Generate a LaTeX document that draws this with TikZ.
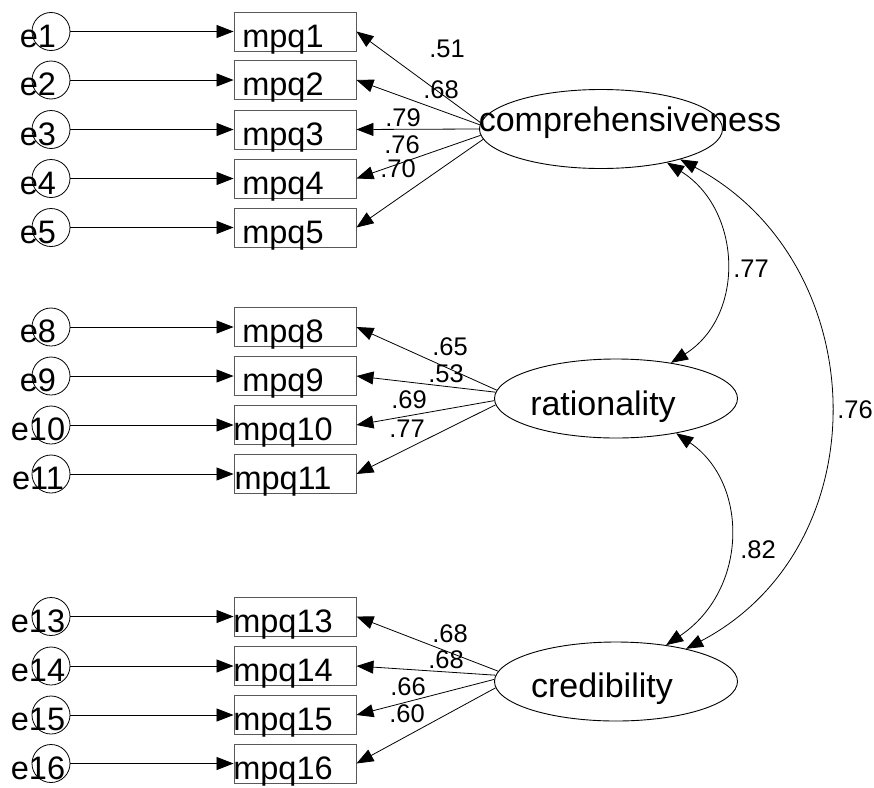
\documentclass[tikz,border=0pt]{standalone}
\usepackage{fontspec}
\setmainfont{Liberation Sans}
\usetikzlibrary{arrows.meta,shapes.geometric}
\tikzset{
 obs/.style={draw=black!65, line width=0.9pt, minimum width=122pt, minimum height=39pt, inner sep=0pt},
 err/.style={draw, circle, line width=0.8pt, minimum size=38pt, inner sep=0pt},
 lat/.style={draw, ellipse, line width=0.9pt, minimum width=243pt, minimum height=79pt, inner sep=0pt},
 boxtxt/.style={anchor=base, inner sep=0pt, font=\fontsize{32.5}{39}\selectfont},
 lattxt/.style={anchor=base, inner sep=0pt, font=\fontsize{34}{40}\selectfont},
 coef/.style={anchor=base, inner sep=0pt, font=\fontsize{25.5}{30}\selectfont},
 arr/.style={line width=0.8pt, -{Triangle[length=17pt,width=13pt]}},
 cov/.style={line width=0.8pt, {Triangle[length=17pt,width=13pt]}-{Triangle[length=17pt,width=13pt]}},
}
\begin{document}
\begin{tikzpicture}[x=1pt,y=-1pt]
\useasboundingbox (0,0) rectangle (874,787);
% latent variables
\node[lat] (comp) at (601,129) {};
\node[lat] (rat) at (616,398.5) {};
\node[lat] (cred) at (616,681.5) {};
\node[lattxt] (tcomp) at (630,131) {comprehensiveness};
\node[lattxt] (trat) at (603,415) {rationality};
\node[lattxt] (tcred) at (602,697) {credibility};
% indicators and errors
\foreach \i/\y in {1/31.5,2/80,3/129.5,4/178.5,5/227.5,8/327,9/376,10/425,11/474,13/616.5,14/666,15/715,16/763.5}{
  \node[obs] (b\i) at (295,\y) {};
  \node[err] (c\i) at (51,\y) {};
  \node[boxtxt] (tb\i) at (283,\y+15.5) {mpq\i};
  \node[boxtxt] (te\i) at (38,\y+15.5) {e\i};
  \draw[arr] (c\i) -- (b\i);
}
% loadings
\foreach \i/\a in {1/177,2/178,3/180,4/183,5/185}{\draw[arr] (comp.\a) -- (b\i.east);}
\foreach \i/\a in {8/176,9/177,10/181,11/183}{\draw[arr] (rat.\a) -- (b\i.east);}
\foreach \i/\a in {13/175,14/177,15/179,16/183}{\draw[arr] (cred.\a) -- (b\i.east);}
% loading labels
\node[coef] (l1) at (447,57) {.51};
\node[coef] (l2) at (441,98) {.68};
\node[coef] (l3) at (403,126) {.79};
\node[coef] (l4) at (402,153) {.76};
\node[coef] (l5) at (398,177) {.70};
\node[coef] (l8) at (450,355) {.65};
\node[coef] (l9) at (446,382) {.53};
\node[coef] (l10) at (409,408) {.69};
\node[coef] (l11) at (407,437) {.77};
\node[coef] (l13) at (450,642) {.68};
\node[coef] (l14) at (446,668) {.68};
\node[coef] (l15) at (408,695) {.66};
\node[coef] (l16) at (407,722) {.60};
% covariances
\draw[cov] (comp.-27) .. controls +(75,47) and +(75,-47) .. (rat.33);
\draw[cov] (comp.-21) .. controls +(194,103) and +(196,-103) .. (cred.25);
\draw[cov] (rat.-30) .. controls +(73,50) and +(82,-55) .. (cred.36);
\node[coef] (k1) at (751,277) {.77};
\node[coef] (k2) at (855,418) {.76};
\node[coef] (k3) at (758,558) {.82};
\end{tikzpicture}
\end{document}
